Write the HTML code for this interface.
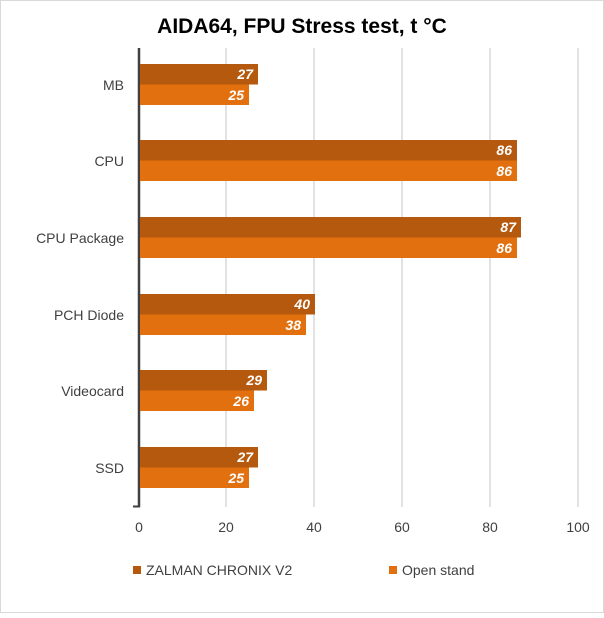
<!DOCTYPE html>
<html><head><style>
body{margin:0;background:#fff}
svg text{font-family:"Liberation Sans",sans-serif}
</style></head><body>
<svg width="604" height="613" xmlns="http://www.w3.org/2000/svg">
<rect x="0.5" y="0.5" width="603" height="612" fill="#fff" stroke="#d9d9d9"/>
<text x="302" y="33" text-anchor="middle" font-size="21" font-weight="bold" fill="#000">AIDA64, FPU Stress test, t °C</text>
<g stroke="#d9d9d9" stroke-width="1.5">
<line x1="226" y1="48" x2="226" y2="507"/><line x1="314" y1="48" x2="314" y2="507"/>
<line x1="402" y1="48" x2="402" y2="507"/><line x1="490" y1="48" x2="490" y2="507"/>
<line x1="578" y1="48" x2="578" y2="507"/>
</g>
<g id="bars"></g>
<line x1="139" y1="48" x2="139" y2="507" stroke="#404040" stroke-width="2.5"/>
<line x1="133" y1="506.5" x2="140" y2="506.5" stroke="#404040" stroke-width="2"/>
<g font-size="14" fill="#404040" text-anchor="middle">
<text x="139" y="532">0</text><text x="226" y="532">20</text><text x="314" y="532">40</text>
<text x="402" y="532">60</text><text x="490" y="532">80</text><text x="578" y="532">100</text>
</g>
<g font-size="14" fill="#404040" text-anchor="end">
<text x="124" y="90">MB</text><text x="124" y="166">CPU</text><text x="124" y="243">CPU Package</text>
<text x="124" y="320">PCH Diode</text><text x="124" y="396">Videocard</text><text x="124" y="473">SSD</text>
</g>
<rect x="133" y="566" width="8" height="8" fill="#B5590E"/>
<text x="146" y="575" font-size="14" fill="#404040">ZALMAN CHRONIX V2</text>
<rect x="389" y="566" width="8" height="8" fill="#E2700F"/>
<text x="402" y="575" font-size="14" fill="#404040">Open stand</text>
<g font-size="14" font-weight="bold" font-style="italic" fill="#fff" text-anchor="end">
<rect x="140" y="64" width="118" height="20.5" fill="#B5590E"/><text x="253" y="79">27</text>
<rect x="140" y="84.5" width="109" height="20.5" fill="#E2700F"/><text x="244" y="100">25</text>
<rect x="140" y="140" width="377" height="20.5" fill="#B5590E"/><text x="512" y="155">86</text>
<rect x="140" y="160.5" width="377" height="20.5" fill="#E2700F"/><text x="512" y="176">86</text>
<rect x="140" y="217" width="381" height="20.5" fill="#B5590E"/><text x="516" y="232">87</text>
<rect x="140" y="237.5" width="377" height="20.5" fill="#E2700F"/><text x="512" y="253">86</text>
<rect x="140" y="294" width="175" height="20.5" fill="#B5590E"/><text x="310" y="309">40</text>
<rect x="140" y="314.5" width="166" height="20.5" fill="#E2700F"/><text x="301" y="330">38</text>
<rect x="140" y="370" width="127" height="20.5" fill="#B5590E"/><text x="262" y="385">29</text>
<rect x="140" y="390.5" width="114" height="20.5" fill="#E2700F"/><text x="249" y="406">26</text>
<rect x="140" y="447" width="118" height="20.5" fill="#B5590E"/><text x="253" y="462">27</text>
<rect x="140" y="467.5" width="109" height="20.5" fill="#E2700F"/><text x="244" y="483">25</text>
</g>
</svg>
</body></html>
